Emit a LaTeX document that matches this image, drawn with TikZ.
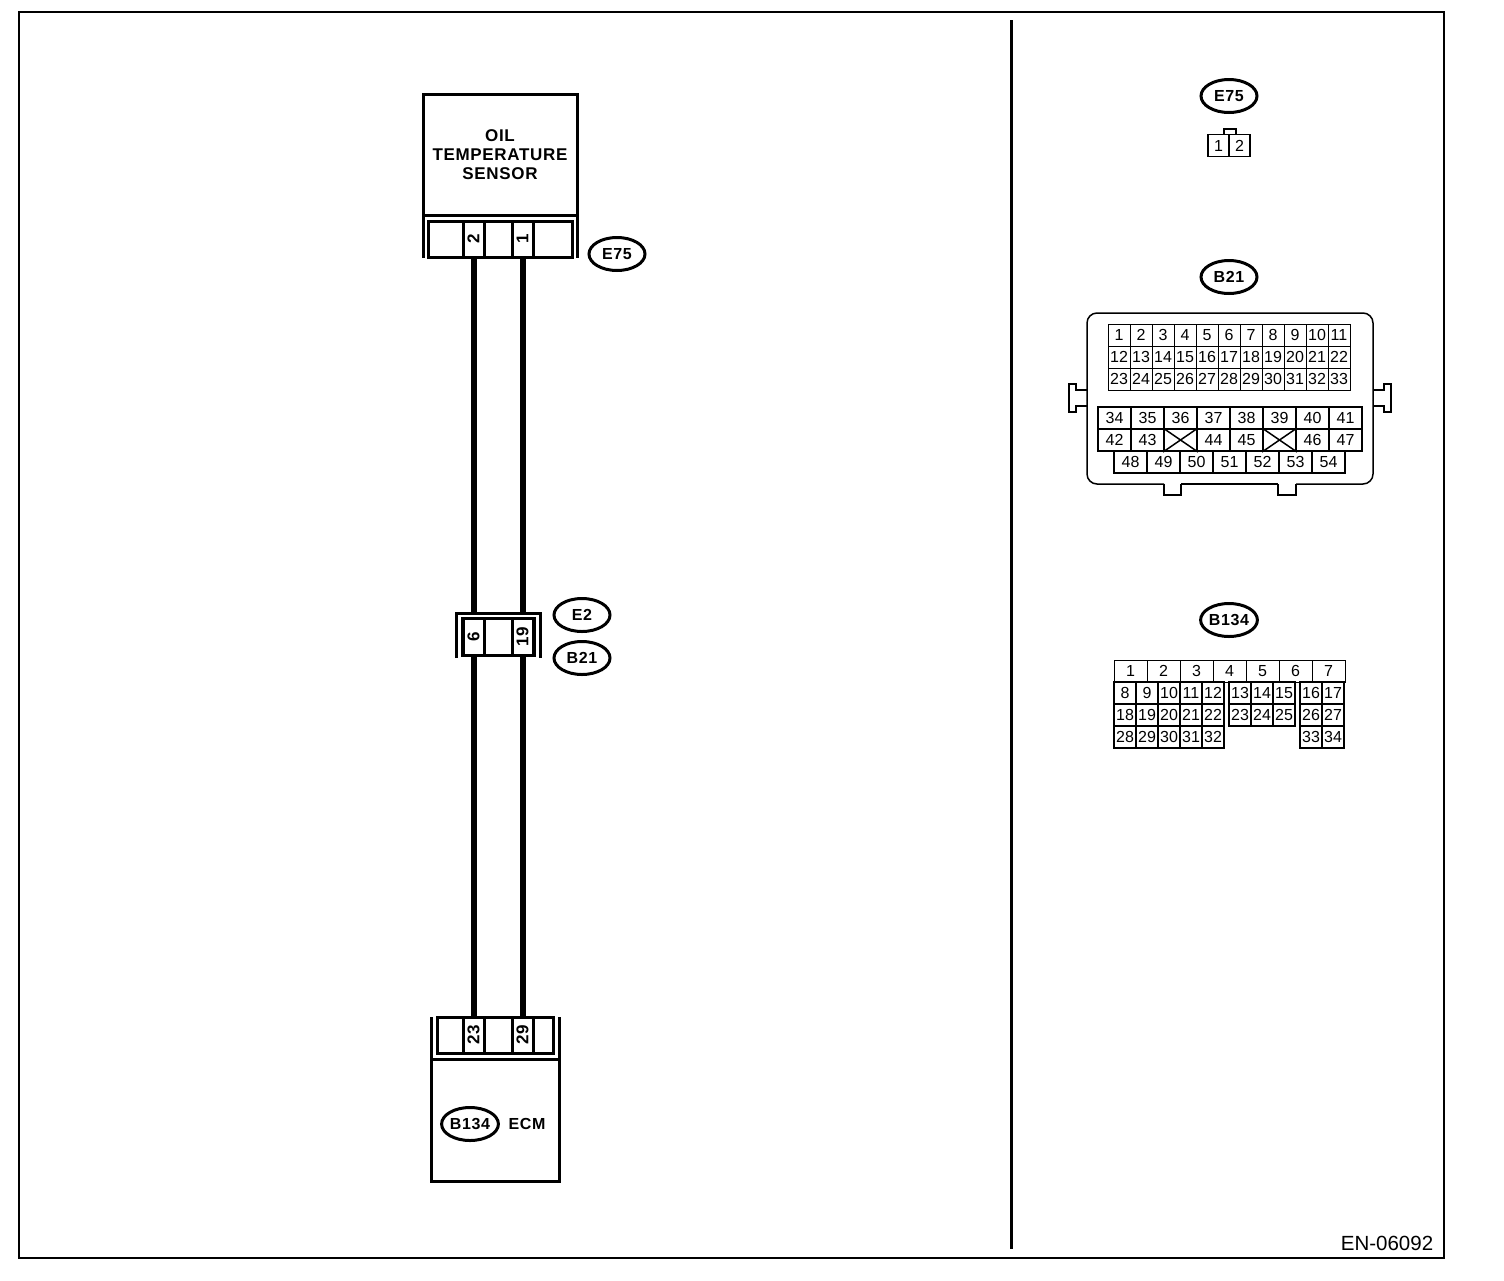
\documentclass[tikz,border=0pt]{standalone}
\usepackage{fontspec}
\setmainfont{Liberation Sans}
\newfontfamily\labelfont[LetterSpace=4]{Liberation Sans}
\usetikzlibrary{shapes.geometric}
\tikzset{
  conn/.style={ellipse, draw, line width=3pt, minimum width=56pt, minimum height=33pt, inner sep=0pt, font=\fontsize{16}{16}\selectfont\labelfont\bfseries},
  title/.style={inner sep=0pt, align=center, font=\fontsize{17}{19}\selectfont\labelfont\bfseries},
  pincell/.style={rectangle, draw, line width=3pt, minimum height=36pt, inner sep=0pt, outer sep=0pt, font=\fontsize{17}{17}\selectfont\labelfont\bfseries},
  grid/.style={rectangle, draw, line width=1pt, inner sep=0pt, minimum height=22pt, font=\fontsize{16}{16}\selectfont},
  wire/.style={line width=6pt},
  body/.style={line width=3pt},
  housing/.style={line width=1.5pt}
}
\begin{document}
\begin{tikzpicture}[x=1pt, y=-1pt]
    \useasboundingbox (0,0) rectangle (1504,1280);
    \draw[line width=2pt] (19,12) rectangle (1444,1258);
    \draw[line width=3pt] (1011,20) -- (1011,1249);
    \node [inner sep=0pt, font=\fontsize{20.5}{20.5}\selectfont] (code) at (1387,1243) {EN-06092};

    % sensor
    \node [rectangle, draw, line width=3pt, minimum width=154pt, minimum height=121pt, inner sep=0pt, outer sep=0pt, title] (sensor) at (500,154.5) {OIL\\TEMPERATURE\\SENSOR};
    \coordinate (sensorl) at (423,258);
    \coordinate (sensorr) at (577,258);
    \draw[body] (sensor.south west) -- (sensorl);
    \draw[body] (sensor.south east) -- (sensorr);
    \node [pincell, minimum width=144pt] (sensorbox) at (500,239) {};
    \node [pincell, minimum width=21pt] (pintwo) at (473.5,239) {\rotatebox{90}{2}};
    \node [pincell, minimum width=21pt] (pinone) at (522.5,239) {\rotatebox{90}{1}};
    \node [conn] (e75) at (617,254) {E75};

    % middle connector
    \coordinate (midla) at (456,658);
    \coordinate (midra) at (540,658);
    \coordinate (midlb) at (456,613);
    \coordinate (midrb) at (540,613);
    \draw[body] (midla) -- (midlb) -- (midrb) -- (midra);
    \node [pincell, minimum width=72pt, minimum height=37pt] (midbox) at (498,636.5) {};
    \node [pincell, minimum width=21pt, minimum height=37pt] (pinsix) at (473.5,636.5) {\rotatebox{90}{6}};
    \node [pincell, minimum width=21pt, minimum height=37pt] (pinnineteen) at (522.5,636.5) {\rotatebox{90}{19}};
    \node [conn] (e2) at (582,615) {E2};
    \node [conn] (b21) at (582,658) {B21};

    % ECM
    \node [rectangle, draw, line width=3pt, minimum width=128pt, minimum height=122pt, inner sep=0pt, outer sep=0pt] (ecm) at (495,1120) {};
    \coordinate (ecml) at (431,1017);
    \coordinate (ecmr) at (559,1017);
    \draw[body] (ecm.north west) -- (ecml);
    \draw[body] (ecm.north east) -- (ecmr);
    \node [pincell, minimum width=116pt] (ecmbox) at (495,1035) {};
    \node [pincell, minimum width=21pt] (pintt) at (473.5,1035) {\rotatebox{90}{23}};
    \node [pincell, minimum width=21pt] (pintn) at (522.5,1035) {\rotatebox{90}{29}};
    \node [conn] (b134) at (470,1124) {B134};
    \node [title, font=\fontsize{16}{16}\selectfont\labelfont\bfseries] (ecmname) at (527,1124) {ECM};

    % wires
    \draw[wire] (pintwo.south) -- (midlb -| pintwo.south);
    \draw[wire] (pinone.south) -- (midlb -| pinone.south);
    \draw[wire] (pinsix.south) -- (pintt.north);
    \draw[wire] (pinnineteen.south) -- (pintn.north);

    % E75 view
    \node [conn] (e75view) at (1229,96) {E75};
    \draw[housing] (1224,134) -- (1224,129) -- (1236,129) -- (1236,134);
    \node [grid, line width=1.5pt, minimum width=21pt] (eone) at (1218.5,145.5) {1};
    \node [grid, line width=1.5pt, minimum width=21pt] (etwo) at (1239.5,145.5) {2};

    % B21 view
    \node [conn] (b21view) at (1229,277) {B21};
    \draw[housing, rounded corners=10pt] (1087,400) -- (1087,313) -- (1373,313) -- (1373,400);
    \draw[housing, rounded corners=10pt] (1087,400) -- (1087,484) -- (1164,484);
    \draw[housing, rounded corners=10pt] (1373,400) -- (1373,484) -- (1296,484);
    \draw[housing] (1181,484) -- (1278,484);
    \draw[housing] (1164,484) -- (1164,495) -- (1181,495) -- (1181,484);
    \draw[housing] (1278,484) -- (1278,495) -- (1296,495) -- (1296,484);
    \draw[housing] (1087,390) -- (1076,390) -- (1076,384) -- (1069,384) -- (1069,412) -- (1076,412) -- (1076,406) -- (1087,406);
    \draw[housing] (1373,390) -- (1384,390) -- (1384,384) -- (1391,384) -- (1391,412) -- (1384,412) -- (1384,406) -- (1373,406);
    \foreach \n in {1,...,33} {
        \pgfmathtruncatemacro{\col}{mod(\n-1,11)}
        \pgfmathtruncatemacro{\row}{(\n-1)/11}
        \node [grid, minimum width=22pt] (up\n) at (1119+22*\col,335+22*\row) {\n};
    }
    \foreach \n [count=\i from 0] in {34,35,36,37,38,39,40,41}
        \node [grid, line width=2pt, minimum width=33pt] (mid\n) at (1114.5+33*\i,418) {\n};
    \foreach \n [count=\i from 0] in {42,43,,44,45,,46,47}
        \node [grid, line width=2pt, minimum width=33pt] (midb\i) at (1114.5+33*\i,440) {\n};
    \draw[housing] (midb2.north west) -- (midb2.south east);
    \draw[housing] (midb2.north east) -- (midb2.south west);
    \draw[housing] (midb5.north west) -- (midb5.south east);
    \draw[housing] (midb5.north east) -- (midb5.south west);
    \foreach \n [count=\i from 0] in {48,...,54}
        \node [grid, line width=2pt, minimum width=33pt] (low\n) at (1130.5+33*\i,462) {\n};

    % B134 view
    \node [conn] (b134view) at (1229,620) {B134};
    \foreach \n [count=\i from 0] in {1,...,7}
        \node [grid, minimum width=33pt] (top\n) at (1130.5+33*\i,671) {\n};
    \foreach \n [count=\i from 0] in {8,...,12}
        \node [grid, line width=1.5pt, minimum width=22pt] (ra\n) at (1125+22*\i,693) {\n};
    \foreach \n [count=\i from 0] in {18,...,22}
        \node [grid, line width=1.5pt, minimum width=22pt] (ra\n) at (1125+22*\i,715) {\n};
    \foreach \n [count=\i from 0] in {28,...,32}
        \node [grid, line width=1.5pt, minimum width=22pt] (ra\n) at (1125+22*\i,737) {\n};
    \foreach \n [count=\i from 0] in {13,14,15}
        \node [grid, line width=1.5pt, minimum width=22pt] (rb\n) at (1240+22*\i,693) {\n};
    \foreach \n [count=\i from 0] in {23,24,25}
        \node [grid, line width=1.5pt, minimum width=22pt] (rb\n) at (1240+22*\i,715) {\n};
    \foreach \n [count=\i from 0] in {16,17}
        \node [grid, line width=1.5pt, minimum width=22pt] (rc\n) at (1311+22*\i,693) {\n};
    \foreach \n [count=\i from 0] in {26,27}
        \node [grid, line width=1.5pt, minimum width=22pt] (rc\n) at (1311+22*\i,715) {\n};
    \foreach \n [count=\i from 0] in {33,34}
        \node [grid, line width=1.5pt, minimum width=22pt] (rc\n) at (1311+22*\i,737) {\n};
\end{tikzpicture}
\end{document}
